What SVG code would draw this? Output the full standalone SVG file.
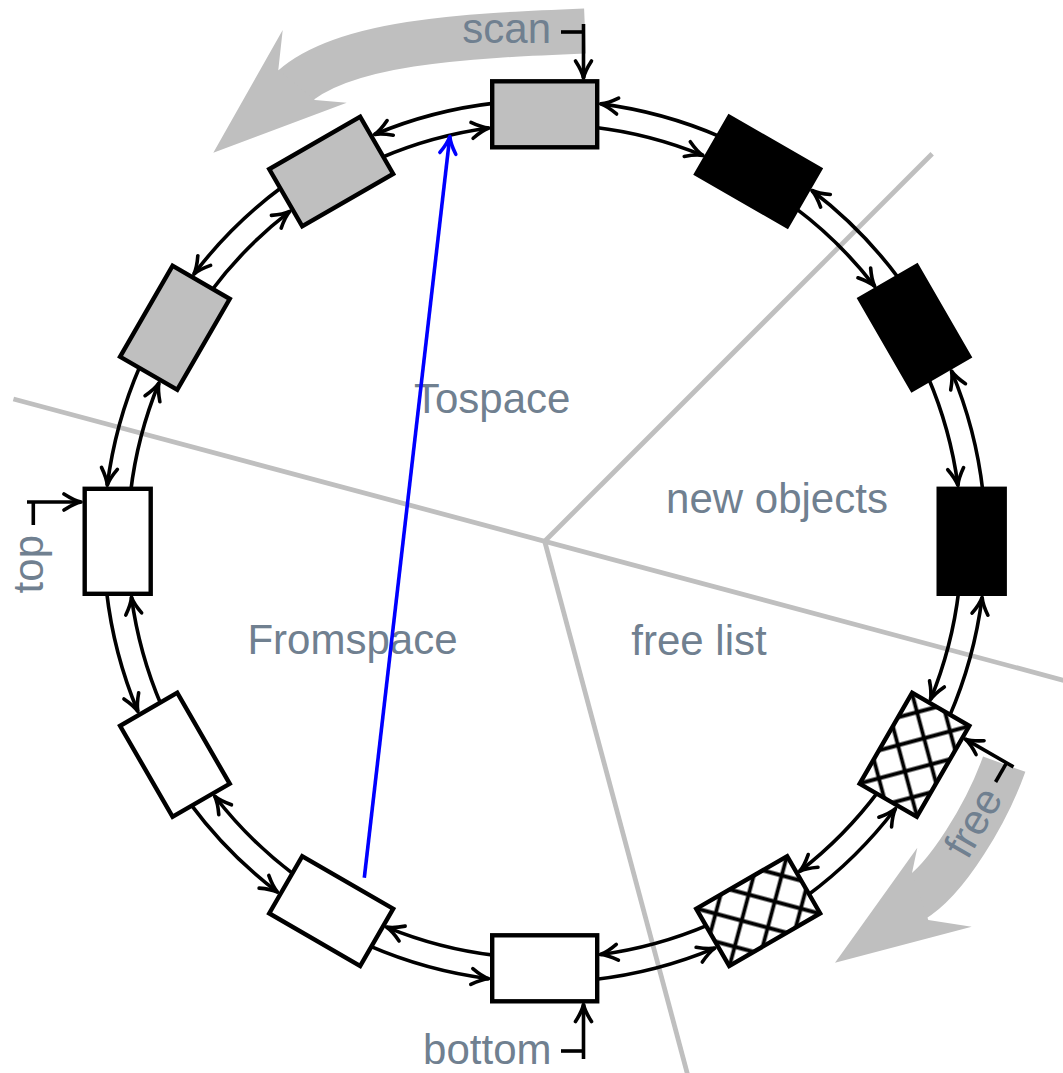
<svg xmlns="http://www.w3.org/2000/svg" width="1063" height="1073" viewBox="0 0 1063 1073">
  <defs>
    <!-- open barbed arrow tips -->
    <marker id="tip" markerUnits="userSpaceOnUse" markerWidth="40" markerHeight="40" viewBox="-20 -20 40 40" refX="0" refY="0" orient="auto">
      <path d="M-17,-8 Q-7,-1.5 0,0 Q-7,1.5 -17,8" fill="none" stroke="#000" stroke-width="3.6" stroke-linecap="round" stroke-linejoin="round"/>
    </marker>
    <marker id="tipBlue" markerUnits="userSpaceOnUse" markerWidth="40" markerHeight="40" viewBox="-20 -20 40 40" refX="0" refY="0" orient="auto">
      <path d="M-17,-8 Q-7,-1.5 0,0 Q-7,1.5 -17,8" fill="none" stroke="#0000ff" stroke-width="3.6" stroke-linecap="round" stroke-linejoin="round"/>
    </marker>
    <!-- cross-hatching, diagonal to the cell edges -->
    <pattern id="hatch" patternUnits="userSpaceOnUse" width="27" height="27" patternTransform="rotate(45)">
      <path d="M13.5,0 V27 M0,13.5 H27" stroke="#000" stroke-width="3.8" fill="none"/>
    </pattern>
    <!-- link arcs for one gap (cell at 0deg to cell at 30deg), centred on the ring centre -->
    <path id="linkOuter" d="M404.42,175.85 A441,441 0 0 0 437.42,56.03" fill="none" stroke="#000" stroke-width="3.6" marker-end="url(#tip)"/>
    <path id="linkInner" d="M414.07,49.38 A417,417 0 0 1 385.78,158.30" fill="none" stroke="#000" stroke-width="3.6" marker-end="url(#tip)"/>
  </defs>
  <style>
    .lbl{font-family:"Liberation Sans",Arial,Helvetica,sans-serif;font-size:42px;fill:#708090}
    .sector{stroke:#bfbfbf;stroke-width:4.8;fill:none}
    .band{stroke:#bfbfbf;stroke-width:45;fill:none}
    .head{fill:#bfbfbf}
    .cell{stroke:#000;stroke-width:4.4;stroke-linejoin:miter}
    .gray{fill:#bfbfbf}
    .black{fill:#000}
    .white{fill:#fff}
    .ptr{fill:none;stroke:#000;stroke-width:3.6}
  </style>

  <!-- sector boundaries -->
  <g id="sectors">
    <line class="sector" x1="13.44" y1="398.95" x2="1075.96" y2="683.65"/>
    <line class="sector" x1="544.7" y1="541.3" x2="932.2" y2="153.8"/>
    <line class="sector" x1="544.7" y1="541.3" x2="687.3" y2="1073.5"/>
  </g>

  <!-- broad direction arrows -->
  <g id="scan-sweep">
    <path class="band" d="M585,31 C465,35.8 338,41.6 289,91.3"/>
    <polygon class="head" points="213.3,152.7 282.7,30 278.3,70 315,100 346.7,102.7"/>
  </g>
  <g id="free-sweep">
    <path class="band" d="M1004.2,764.2 C987.3,811.3 947.2,880.4 912.6,900.4"/>
    <polygon class="head" points="835,962.7 917.3,847.7 912,873 928.3,920 971.7,926.7"/>
  </g>

  <!-- region labels -->
  <g id="labels">
    <text class="lbl" x="414" y="413">Tospace</text>
    <text class="lbl" x="777" y="513" text-anchor="middle">new objects</text>
    <text class="lbl" x="352.5" y="654" text-anchor="middle">Fromspace</text>
    <text class="lbl" x="699" y="655" text-anchor="middle">free list</text>
  </g>

  <!-- doubly linked ring -->
  <g id="connectors" transform="translate(544.7 541.3)">
    <use href="#linkOuter" transform="rotate(0)"/><use href="#linkInner" transform="rotate(0)"/>
    <use href="#linkOuter" transform="rotate(30)"/><use href="#linkInner" transform="rotate(30)"/>
    <use href="#linkOuter" transform="rotate(60)"/><use href="#linkInner" transform="rotate(60)"/>
    <use href="#linkOuter" transform="rotate(90)"/><use href="#linkInner" transform="rotate(90)"/>
    <use href="#linkOuter" transform="rotate(120)"/><use href="#linkInner" transform="rotate(120)"/>
    <use href="#linkOuter" transform="rotate(150)"/><use href="#linkInner" transform="rotate(150)"/>
    <use href="#linkOuter" transform="rotate(180)"/><use href="#linkInner" transform="rotate(180)"/>
    <use href="#linkOuter" transform="rotate(210)"/><use href="#linkInner" transform="rotate(210)"/>
    <use href="#linkOuter" transform="rotate(240)"/><use href="#linkInner" transform="rotate(240)"/>
    <use href="#linkOuter" transform="rotate(270)"/><use href="#linkInner" transform="rotate(270)"/>
    <use href="#linkOuter" transform="rotate(300)"/><use href="#linkInner" transform="rotate(300)"/>
    <use href="#linkOuter" transform="rotate(330)"/><use href="#linkInner" transform="rotate(330)"/>
  </g>

  <!-- ring cells -->
  <g id="cell-0" transform="translate(544.7 541.3) rotate(0) translate(427 0) rotate(90)">
    <rect class="cell black" x="-52.5" y="-33" width="105" height="66"/>
  </g>
  <g id="cell-30" transform="translate(544.7 541.3) rotate(30) translate(427 0) rotate(90)">
    <rect class="white" x="-52.5" y="-33" width="105" height="66"/>
    <rect class="cell" fill="url(#hatch)" x="-52.5" y="-33" width="105" height="66"/>
  </g>
  <g id="cell-60" transform="translate(544.7 541.3) rotate(60) translate(427 0) rotate(90)">
    <rect class="white" x="-52.5" y="-33" width="105" height="66"/>
    <rect class="cell" fill="url(#hatch)" x="-52.5" y="-33" width="105" height="66"/>
  </g>
  <g id="cell-90" transform="translate(544.7 541.3) rotate(90) translate(427 0) rotate(90)">
    <rect class="cell white" x="-52.5" y="-33" width="105" height="66"/>
  </g>
  <g id="cell-120" transform="translate(544.7 541.3) rotate(120) translate(427 0) rotate(90)">
    <rect class="cell white" x="-52.5" y="-33" width="105" height="66"/>
  </g>
  <g id="cell-150" transform="translate(544.7 541.3) rotate(150) translate(427 0) rotate(90)">
    <rect class="cell white" x="-52.5" y="-33" width="105" height="66"/>
  </g>
  <g id="cell-180" transform="translate(544.7 541.3) rotate(180) translate(427 0) rotate(90)">
    <rect class="cell white" x="-52.5" y="-33" width="105" height="66"/>
  </g>
  <g id="cell-210" transform="translate(544.7 541.3) rotate(210) translate(427 0) rotate(90)">
    <rect class="cell gray" x="-52.5" y="-33" width="105" height="66"/>
  </g>
  <g id="cell-240" transform="translate(544.7 541.3) rotate(240) translate(427 0) rotate(90)">
    <rect class="cell gray" x="-52.5" y="-33" width="105" height="66"/>
  </g>
  <g id="cell-270" transform="translate(544.7 541.3) rotate(270) translate(427 0) rotate(90)">
    <rect class="cell gray" x="-52.5" y="-33" width="105" height="66"/>
  </g>
  <g id="cell-300" transform="translate(544.7 541.3) rotate(300) translate(427 0) rotate(90)">
    <rect class="cell black" x="-52.5" y="-33" width="105" height="66"/>
  </g>
  <g id="cell-330" transform="translate(544.7 541.3) rotate(330) translate(427 0) rotate(90)">
    <rect class="cell black" x="-52.5" y="-33" width="105" height="66"/>
  </g>

  <!-- named pointers -->
  <g id="ptr-scan">
    <text class="lbl" x="551" y="43.3" text-anchor="end">scan</text>
    <path class="ptr" d="M561,32 H583.5"/>
    <path class="ptr" d="M583.5,24 V78" marker-end="url(#tip)"/>
  </g>
  <g id="ptr-bottom">
    <text class="lbl" x="551.5" y="1064" text-anchor="end">bottom</text>
    <path class="ptr" d="M561,1051 H583.5"/>
    <path class="ptr" d="M583.5,1059 V1004.5" marker-end="url(#tip)"/>
  </g>
  <g id="ptr-top">
    <text class="lbl" text-anchor="end" transform="translate(42.5 535) rotate(-90)">top</text>
    <path class="ptr" d="M33.3,525 V502"/>
    <path class="ptr" d="M27,502 H81" marker-end="url(#tip)"/>
  </g>
  <g id="ptr-free">
    <text class="lbl" text-anchor="end" transform="translate(1003.6 798.1) rotate(-60)">free</text>
    <path class="ptr" d="M995.57,781.98 L1006.57,762.93"/>
    <path class="ptr" d="M1013.5,766.9 L965.35,739.13" marker-end="url(#tip)"/>
  </g>

  <!-- forwarding reference -->
  <g id="forward">
    <path d="M364.3,877.7 L449.8,136.5" fill="none" stroke="#0000ff" stroke-width="3.6" marker-end="url(#tipBlue)"/>
  </g>
</svg>
